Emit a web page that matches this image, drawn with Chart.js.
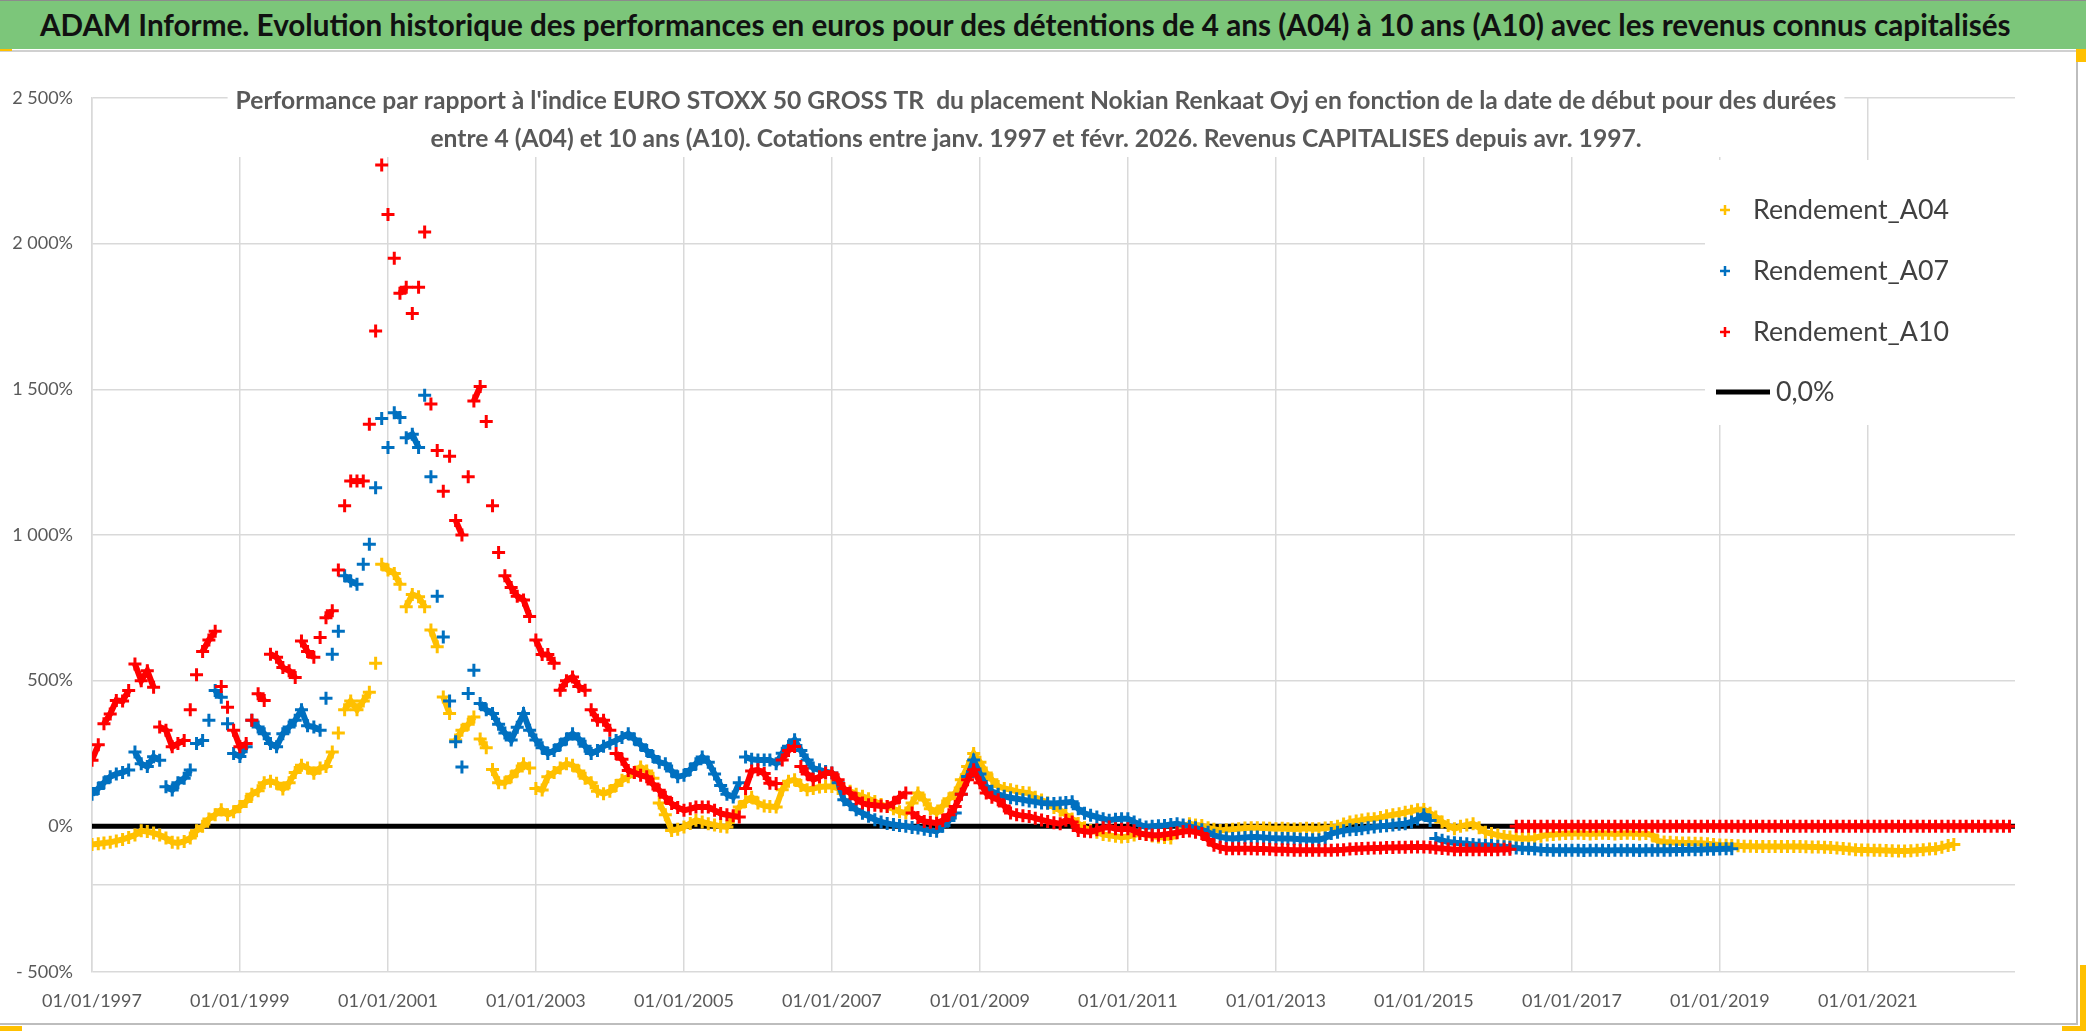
<!DOCTYPE html>
<html>
<head>
<meta charset="utf-8">
<script src="https://cdn.jsdelivr.net/npm/chart.js@4.4.1/dist/chart.umd.min.js"></script>
<style>
  html, body { margin: 0; padding: 0; background: #fff; }
  #wrap { position: relative; width: 2086px; height: 1031px; overflow: hidden; }
  #title {
    position: absolute; left: 0; top: 0; width: 2086px; height: 49px;
    background: #7cc67a; border-top: 1px solid #8c8c8c; box-sizing: border-box;
    font-family: Lato, "Liberation Sans", sans-serif; font-weight: bold; color: #111;
    white-space: nowrap; line-height: 47px; padding-left: 40px; z-index: 2;
  }
  canvas { position: absolute; left: 0; top: 0; }
</style>
</head>
<body>
<div id="wrap">
  <div id="title">ADAM Informe. Evolution historique des performances en euros pour des détentions de 4 ans (A04) à 10 ans (A10) avec les revenus connus capitalisés</div>
  <canvas id="chart" width="2086" height="1031"></canvas>
</div>
<script>
const FONT = 'Lato, "Liberation Sans", sans-serif';

const subtitleLines = [
  "Performance par rapport à l'indice EURO STOXX 50 GROSS TR  du placement Nokian Renkaat Oyj en fonction de la date de début pour des durées",
  "entre 4 (A04) et 10 ans (A10). Cotations entre janv. 1997 et févr. 2026. Revenus CAPITALISES depuis avr. 1997."
];

// monthly values (%), first value = January 1997
const startYear = 1997;

const a04 = [
  -62, -60, -57, -55, -50, -45, -38, -30, -15, -18, -23, -30,
  -40, -55, -57, -52, -40, -15, 0, 25, 40, 57, 40, 50,
  68, 85, 110, 122, 150, 155, 148, 128, 150, 185, 210, 200,
  182, 200, 205, 255, 320, 400, 430, 400, 430, 460, 560, 900,
  880, 868, 831, 754, 796, 788, 754, 674, 616, 444, 387, 296,
  330, 350, 375, 300, 270, 195, 150, 150, 170, 190, 215, 200,
  130, 125, 170, 185, 200, 215, 210, 190, 165, 150, 120, 112,
  120, 140, 158, 170, 185, 204, 190, 165, 80, 40, -14, -10,
  -2, 10, 21, 15, 9, 5, 0, -2, 30, 66, 85, 100,
  80, 70, 68, 66, 126, 155, 160, 140, 126, 130, 135, 137,
  137, 130, 126, 120, 110, 103, 95, 85, 75, 68, 60, 50,
  46, 80, 114, 90, 60, 46, 70, 95, 114, 160, 205, 250,
  220, 183, 160, 137, 130, 126, 120, 116, 114, 100, 90, 80,
  65, 55, 40, 25, 10, -5, -14, -20, -28, -31, -34, -37,
  -35, -30, -25, -28, -33, -37, -38, -40, -20, -5, 9, 5,
  3, -5, -10, -14, -12, -10, -8, -6, -5, -5, -6, -7,
  -8, -7, -8, -9, -8, -7, -8, -8, -6, -4, 0, 8,
  15, 18, 22, 25, 26, 30, 36, 40, 43, 48, 52, 57,
  58, 45, 32, 15, 3, -8, 0, 5, 9, -5, -20, -25,
  -30, -35, -37, -40, -42, -42, -40, -34, -30, -28, -26, -25,
  -25, -24, -25, -26, -25, -24, -25, -26, -25, -24, -25, -26,
  -25, -30, -50, -54, -55, -56, -57, -57, -58, -58, -60, -62,
  -64, -65, -66, -67, -68, -68, -69, -69, -69, -69, -69, -69,
  -69, -69, -70, -71, -71, -72, -73, -74, -76, -78, -80, -81,
  -81, -82, -82, -83, -84, -85, -85, -84, -82, -80, -78, -77,
  -72, -66, -62
];

const a07 = [
  110, 130, 150, 170, 180, 185, 193, 255, 215, 205, 239, 227,
  136, 125, 150, 165, 193, 284, 295, 364, 466, 443, 352, 250,
  240, 273, 364, 341, 318, 284, 273, 318, 341, 364, 400, 345,
  341, 330, 440, 591, 670, 860, 842, 831, 900, 968, 1162, 1400,
  1300, 1420, 1403, 1334, 1346, 1300, 1480, 1200, 790, 650, 430, 290,
  204, 456, 536, 422, 400, 387, 350, 320, 296, 340, 387, 330,
  296, 270, 250, 260, 280, 300, 318, 300, 275, 250, 260, 275,
  285, 295, 305, 318, 300, 280, 260, 240, 220, 215, 190, 170,
  175, 195, 215, 238, 220, 180, 140, 110, 101, 150, 238, 230,
  228, 228, 228, 215, 251, 275, 297, 260, 228, 200, 194, 188,
  183, 150, 91, 75, 57, 45, 35, 23, 15, 10, 6, 3,
  0, -4, -6, -10, -14, -17, 0, 20, 46, 110, 171, 228,
  180, 137, 120, 110, 103, 98, 95, 91, 87, 84, 80, 79,
  78, 80, 82, 84, 60, 45, 38, 32, 26, 21, 24, 26,
  26, 15, 5, -2, 0, 2, 3, 6, 9, 5, 0, -5,
  -12, -20, -31, -36, -40, -42, -40, -38, -37, -37, -38, -40,
  -41, -42, -42, -43, -44, -45, -46, -46, -40, -25, -20, -15,
  -12, -11, -8, -5, -2, 0, 2, 5, 7, 9, 15, 25,
  40, 20, -42, -48, -54, -56, -58, -60, -62, -64, -65, -66,
  -68, -70, -72, -74, -76, -77, -78, -80, -81, -82, -82, -82,
  -82, -82, -83, -82, -82, -82, -83, -82, -82, -82, -82, -83,
  -82, -82, -82, -82, -82, -81, -81, -80, -80, -80, -79, -79,
  -78, -77, -77
];

// A10 ends in March 2016, afterwards the sheet plots empty cells as 0
const a10 = [
  227, 280, 352, 386, 432, 430, 466, 557, 500, 534, 477, 341,
  330, 273, 284, 295, 400, 520, 600, 640, 670, 480, 409, 330,
  273, 284, 364, 455, 432, 591, 580, 545, 534, 511, 636, 600,
  580, 648, 716, 740, 880, 1100, 1185, 1185, 1185, 1380, 1700, 2270,
  2100, 1950, 1830, 1850, 1760, 1850, 2040, 1450, 1290, 1150, 1270, 1050,
  1000, 1200, 1460, 1510, 1390, 1100, 940, 860, 820, 790, 777, 720,
  640, 590, 590, 560, 467, 500, 513, 480, 467, 400, 364, 364,
  330, 250, 230, 192, 185, 175, 170, 145, 124, 100, 78, 65,
  55, 60, 66, 66, 66, 55, 44, 40, 36, 32, 130, 190,
  194, 181, 148, 147, 228, 260, 274, 205, 180, 160, 170, 183,
  183, 160, 130, 114, 95, 80, 74, 72, 70, 68, 80, 100,
  114, 46, 30, 17, 14, 11, 20, 40, 68, 110, 160, 194,
  150, 114, 100, 91, 70, 46, 40, 36, 34, 28, 22, 17,
  12, 9, 21, 15, -14, -17, -19, -12, -5, -2, -8, -10,
  -8, -15, -25, -28, -30, -31, -28, -25, -22, -18, -16, -20,
  -25, -45, -65, -72, -77, -77, -77, -77, -77, -78, -78, -79,
  -80, -80, -81, -82, -82, -82, -82, -82, -82, -82, -81, -80,
  -78, -77, -76, -75, -74, -74, -73, -73, -72, -72, -71, -71,
  -71, -72, -74, -76, -78, -80, -80, -80, -80, -80, -80, -80,
  -80, -79, -79, 0, 0, 0, 0, 0, 0, 0, 0, 0,
  0, 0, 0, 0, 0, 0, 0, 0, 0, 0, 0, 0,
  0, 0, 0, 0, 0, 0, 0, 0, 0, 0, 0, 0,
  0, 0, 0, 0, 0, 0, 0, 0, 0, 0, 0, 0,
  0, 0, 0, 0, 0, 0, 0, 0, 0, 0, 0, 0,
  0, 0, 0, 0, 0, 0, 0, 0, 0, 0, 0, 0,
  0, 0, 0, 0, 0, 0, 0, 0, 0, 0, 0, 0
];

const zeroLineDates = ['1997-01-01', '2022-12-28'];
const zeroLineValues = [0, 0];

const xTickYears = [1997, 1999, 2001, 2003, 2005, 2007, 2009, 2011, 2013, 2015, 2017, 2019, 2021];
const yTickValues = [-500, -200, 0, 500, 1000, 1500, 2000, 2500];

const seriesNames = ['Rendement_A04', 'Rendement_A07', 'Rendement_A10', '0,0%'];
const colors = ['#FFC000', '#0070C0', '#FF0000', '#000000'];

function toPoints(values) {
  return values.map((v, i) => ({ x: Date.UTC(startYear, i, 1), y: v }));
}

function pct(v) {
  if (v === 0) return '0%';
  const a = Math.abs(v).toString().replace(/\B(?=(\d{3})+(?!\d))/g, ' ');
  return (v < 0 ? '- ' : '') + a + '%';
}

// font size giving a wanted text width
const measureCtx = document.createElement('canvas').getContext('2d');
function fitSize(text, weight, target) {
  measureCtx.font = weight + ' 100px ' + FONT;
  return 100 * target / measureCtx.measureText(text).width;
}

const titleEl = document.getElementById('title');
titleEl.style.fontSize = fitSize(titleEl.textContent, 'bold', 1972).toFixed(2) + 'px';

const subSize = fitSize(subtitleLines[0], 'bold', 1602);
const legSize = fitSize('Rendement_A04', 'normal', 196);

const overlay = {
  id: 'overlay',
  afterDraw(chart) {
    const ctx = chart.ctx;
    ctx.save();

    // legend box
    ctx.fillStyle = '#fff';
    ctx.fillRect(1705, 160, 320, 265);
    ctx.font = legSize + 'px ' + FONT;
    ctx.textAlign = 'left';
    ctx.textBaseline = 'middle';
    const ys = [210, 271, 332, 392];
    seriesNames.forEach((name, i) => {
      const y = ys[i];
      ctx.strokeStyle = colors[i];
      if (i < 3) {
        ctx.lineWidth = 2.5;
        ctx.beginPath();
        ctx.moveTo(1720, y); ctx.lineTo(1730, y);
        ctx.moveTo(1725, y - 5); ctx.lineTo(1725, y + 5);
        ctx.stroke();
        ctx.fillStyle = '#404040';
        ctx.fillText(name, 1753, y);
      } else {
        ctx.lineWidth = 5;
        ctx.beginPath();
        ctx.moveTo(1716, y); ctx.lineTo(1770, y);
        ctx.stroke();
        ctx.fillStyle = '#404040';
        ctx.fillText(name, 1776, y);
      }
    });

    // subtitle on a white box over the grid
    ctx.font = 'bold ' + subSize + 'px ' + FONT;
    const w = Math.max(...subtitleLines.map(t => ctx.measureText(t).width));
    const cx = 1036;
    ctx.fillStyle = '#fff';
    ctx.fillRect(cx - w / 2 - 8, 82, w + 16, 75);
    ctx.fillStyle = '#595959';
    ctx.textAlign = 'center';
    ctx.fillText(subtitleLines[0], cx, 101);
    ctx.fillText(subtitleLines[1], cx, 139);

    // frame of the sheet object
    ctx.strokeStyle = '#d0d0d0';
    ctx.lineWidth = 2;
    ctx.beginPath();
    ctx.moveTo(0, 51); ctx.lineTo(2078, 51);
    ctx.stroke();
    ctx.strokeStyle = '#bdbdbd';
    ctx.beginPath();
    ctx.moveTo(2077, 50); ctx.lineTo(2077, 1024); ctx.lineTo(0, 1024);
    ctx.stroke();
    ctx.fillStyle = '#FFC000';
    ctx.fillRect(0, 48, 12, 3);
    ctx.fillRect(2076, 48, 10, 14);
    ctx.fillRect(2080, 965, 6, 66);
    ctx.fillRect(2062, 1026, 24, 5);
    ctx.fillRect(0, 1026, 22, 5);
    ctx.restore();
  }
};

// daily points merge into a band where the series moves slowly;
// large monthly jumps stay as separate crosses
const bandOnly = (c) => Math.abs(c.p1.parsed.y - c.p0.parsed.y) > 60 ? 'transparent' : undefined;

const scatterStyle = (i) => ({
  type: 'scatter',
  label: seriesNames[i],
  showLine: true,
  borderWidth: 6,
  tension: 0,
  segment: { borderColor: bandOnly },
  pointStyle: 'cross',
  pointRadius: 6.5,
  pointBorderWidth: 3,
  borderColor: colors[i],
  backgroundColor: colors[i],
  order: 3 - i
});

const gridColor = '#d9d9d9';

new Chart(document.getElementById('chart'), {
  data: {
    datasets: [
      { ...scatterStyle(0), data: toPoints(a04) },
      { ...scatterStyle(1), data: toPoints(a07) },
      { ...scatterStyle(2), data: toPoints(a10) },
      {
        type: 'line',
        label: seriesNames[3],
        data: zeroLineDates.map((d, i) => ({ x: Date.parse(d), y: zeroLineValues[i] })),
        borderColor: colors[3],
        borderWidth: 5,
        pointRadius: 0,
        order: 10
      }
    ]
  },
  options: {
    responsive: false,
    animation: false,
    layout: { padding: { top: 98, right: 71, bottom: 0, left: 0 } },
    plugins: {
      legend: { display: false },
      tooltip: { enabled: false }
    },
    scales: {
      x: {
        type: 'linear',
        min: Date.parse(zeroLineDates[0]),
        max: Date.parse(zeroLineDates[1]),
        afterBuildTicks: (s) => { s.ticks = xTickYears.map(y => ({ value: Date.UTC(y, 0, 1) })); },
        afterFit: (s) => { s.height = 59; },
        grid: { color: gridColor, lineWidth: 1.5, drawTicks: false },
        border: { display: false },
        ticks: {
          autoSkip: false,
          maxRotation: 0,
          padding: 18,
          color: '#595959',
          font: { family: FONT, size: 18 },
          callback: (v) => '01/01/' + new Date(v).getUTCFullYear()
        }
      },
      y: {
        min: -500,
        max: 2500,
        afterBuildTicks: (s) => { s.ticks = yTickValues.map(v => ({ value: v })); },
        afterFit: (s) => { s.width = 92; },
        grid: { color: gridColor, lineWidth: 1.5, drawTicks: false },
        border: { color: gridColor, width: 1.5 },
        ticks: {
          padding: 19,
          color: '#595959',
          font: { family: FONT, size: 18 },
          callback: (v) => v === -200 ? '' : pct(v)
        }
      }
    }
  },
  plugins: [overlay]
});
</script>
</body>
</html>
